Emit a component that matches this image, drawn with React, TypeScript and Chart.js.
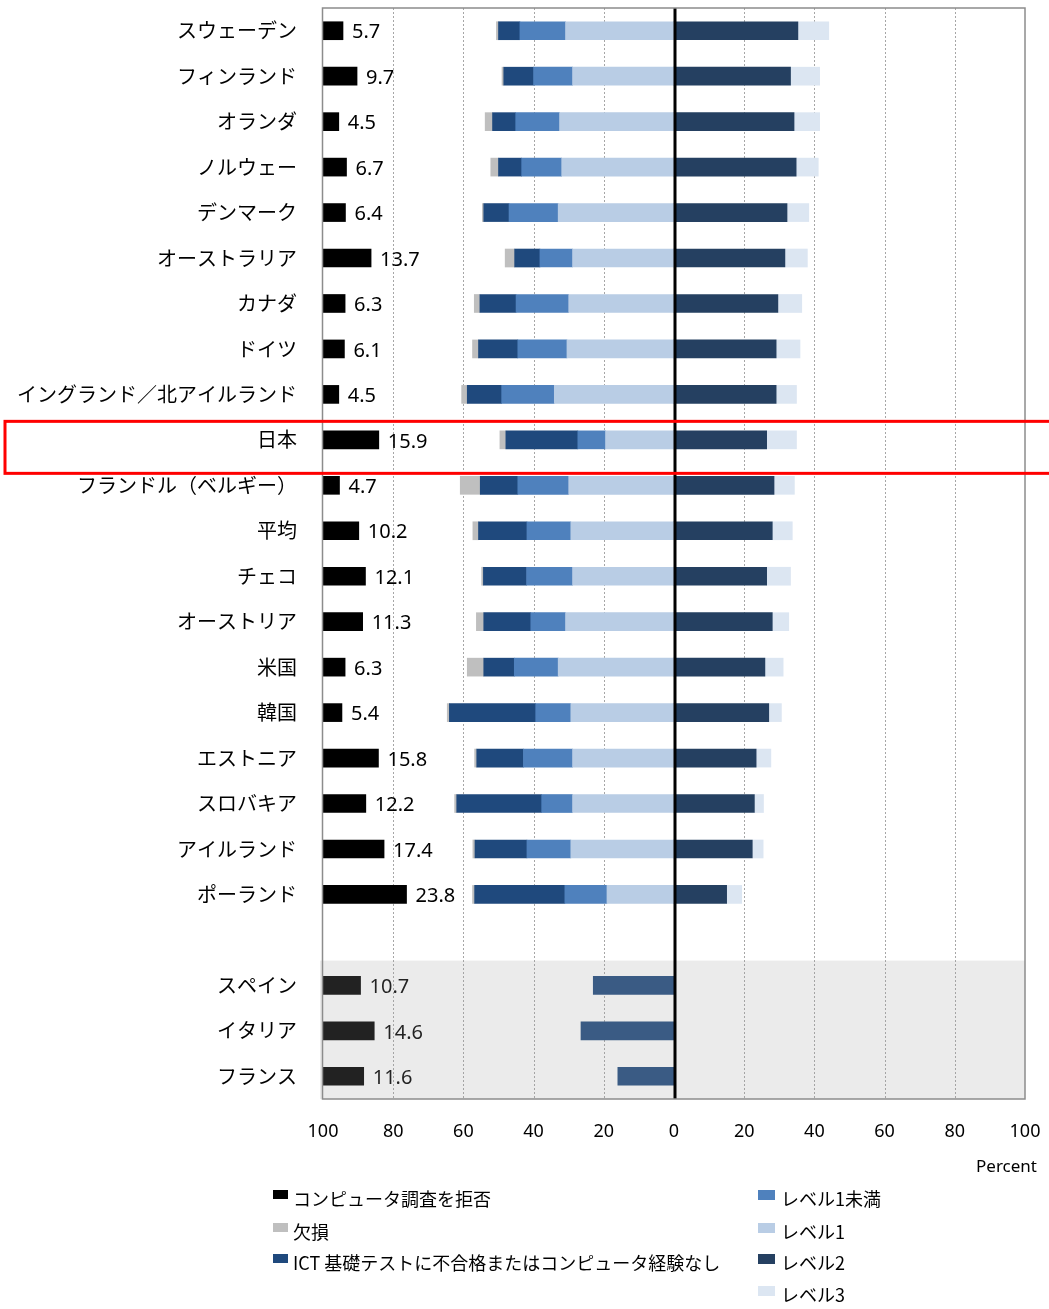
import React, { useEffect, useRef } from "react";
import { Chart, registerables } from "chart.js";

Chart.register(...registerables);

// Countries (top to bottom); the empty entry separates the three countries without problem-solving results
const countries = [
  "スウェーデン",
  "フィンランド",
  "オランダ",
  "ノルウェー",
  "デンマーク",
  "オーストラリア",
  "カナダ",
  "ドイツ",
  "イングランド／北アイルランド",
  "日本",
  "フランドル（ベルギー）",
  "平均",
  "チェコ",
  "オーストリア",
  "米国",
  "韓国",
  "エストニア",
  "スロバキア",
  "アイルランド",
  "ポーランド",
  "",
  "スペイン",
  "イタリア",
  "フランス",
];

// Percent of adults in each category
const refused = [5.7, 9.7, 4.5, 6.7, 6.4, 13.7, 6.3, 6.1, 4.5, 15.9, 4.7, 10.2, 12.1, 11.3, 6.3, 5.4, 15.8, 12.2, 17.4, 23.8, null, 10.7, 14.6, 11.6];
const missing = [0.6, 0.5, 2.1, 2.2, 0.4, 2.7, 1.6, 1.7, 1.6, 1.7, 5.7, 1.6, 0.5, 2.1, 4.7, 0.6, 0.6, 0.6, 0.6, 0.6, null, null, null, null];
const ictFail = [6.1, 8.5, 6.6, 6.6, 7.2, 7.2, 10.3, 11.2, 9.8, 20.5, 10.7, 13.8, 12.3, 13.4, 8.7, 24.6, 13.3, 24.2, 14.8, 25.7, null, 23.0, 26.5, 16.0];
const belowLevel1 = [13.0, 11.1, 12.5, 11.4, 14.0, 9.3, 15.0, 14.0, 15.0, 7.9, 14.5, 12.5, 13.1, 9.9, 12.5, 10.0, 14.0, 8.8, 12.5, 12.0, null, null, null, null];
const level1 = [30.9, 28.9, 32.6, 32.0, 33.0, 28.9, 30.0, 30.5, 34.1, 19.5, 30.0, 29.4, 28.9, 30.9, 33.0, 29.4, 28.9, 28.9, 29.4, 19.1, null, null, null, null];
const level2 = [35.3, 33.2, 34.2, 34.8, 32.2, 31.6, 29.6, 29.1, 29.1, 26.4, 28.5, 28.0, 26.4, 28.0, 25.9, 27.0, 23.4, 22.9, 22.3, 15.0, null, null, null, null];
const level3 = [8.8, 8.3, 7.3, 6.3, 6.2, 6.4, 6.8, 6.8, 5.8, 8.5, 5.8, 5.7, 6.8, 4.7, 5.2, 3.6, 4.2, 2.6, 3.1, 4.3, null, null, null, null];

const seriesNames = {
  refused: "コンピュータ調査を拒否",
  missing: "欠損",
  ictFail: "ICT 基礎テストに不合格またはコンピュータ経験なし",
  belowLevel1: "レベル1未満",
  level1: "レベル1",
  level2: "レベル2",
  level3: "レベル3",
};

const colors = {
  refused: "#000000",
  missing: "#BFBFBF",
  ictFail: "#1F497D",
  belowLevel1: "#4F81BD",
  level1: "#B9CDE5",
  level2: "#254061",
  level3: "#DCE6F2",
};

const highlighted = "日本";
const axisMin = -100;
const axisMax = 100;
const axisStep = 20;

type V = number | null;

// Segment stacked leftwards from zero, after the inner series
function leftSegments(series: V[], inner: V[][]) {
  return series.map((v, i) => {
    if (v == null) return null;
    const start = inner.reduce((s, arr) => s + (arr[i] ?? 0), 0);
    return [-(start + v), -start];
  });
}

// Segment stacked rightwards from zero, after the inner series
function rightSegments(series: V[], inner: V[][]) {
  return series.map((v, i) => {
    if (v == null) return null;
    const start = inner.reduce((s, arr) => s + (arr[i] ?? 0), 0);
    return [start, start + v];
  });
}

const LATIN = "'Noto Sans', 'DejaVu Sans', sans-serif";
const CJK = "'Noto Sans CJK JP', 'Noto Sans', sans-serif";

const decorations = {
  id: "decorations",
  beforeDatasetsDraw(chart: any) {
    const { ctx, chartArea: a, scales } = chart;
    const x = scales.x;
    ctx.save();
    ctx.strokeStyle = "#A6A6A6";
    ctx.lineWidth = 1;
    ctx.setLineDash([2, 2]);
    for (let v = axisMin + axisStep; v < axisMax; v += axisStep) {
      if (v === 0) continue;
      const px = Math.round(x.getPixelForValue(v)) + 0.5;
      ctx.beginPath();
      ctx.moveTo(px, a.top);
      ctx.lineTo(px, a.bottom);
      ctx.stroke();
    }
    ctx.restore();
  },
  afterDatasetsDraw(chart: any) {
    const { ctx, chartArea: a, scales } = chart;
    const x = scales.x;
    const y = scales.y;
    ctx.save();

    // refusal values next to the black bars
    ctx.fillStyle = "#000";
    ctx.font = `20px ${LATIN}`;
    ctx.textBaseline = "middle";
    ctx.textAlign = "left";
    refused.forEach((r, i) => {
      if (r == null) return;
      const px = x.getPixelForValue(axisMin + r) + 9;
      ctx.fillText(r.toFixed(1), px, y.getPixelForTick(i) + 2);
    });

    // shaded block for countries without problem-solving results
    const sepIndex = countries.indexOf("");
    const top = (y.getPixelForTick(sepIndex) + y.getPixelForTick(sepIndex + 1)) / 2 - 2;
    ctx.fillStyle = "rgba(160,160,160,0.21)";
    ctx.fillRect(a.left - 3, top, a.right - a.left + 3, a.bottom - top);

    // zero line
    const zx = x.getPixelForValue(0) + 1;
    ctx.strokeStyle = "#000";
    ctx.lineWidth = 3;
    ctx.beginPath();
    ctx.moveTo(zx, a.top);
    ctx.lineTo(zx, a.bottom);
    ctx.stroke();

    // plot frame
    ctx.strokeStyle = "#8C8C8C";
    ctx.lineWidth = 1.5;
    ctx.strokeRect(a.left - 0.5, a.top, a.right - a.left + 0.5, a.bottom - a.top);

    // highlight box
    const hy = y.getPixelForTick(countries.indexOf(highlighted));
    ctx.strokeStyle = "#FF0000";
    ctx.lineWidth = 3;
    ctx.strokeRect(5, hy - 18.5, 1100, 52);

    // unit label
    ctx.fillStyle = "#000";
    ctx.font = `17px ${LATIN}`;
    ctx.textAlign = "right";
    ctx.textBaseline = "middle";
    ctx.fillText("Percent", 1037, 1167);

    // legend
    const col1 = ["refused", "missing", "ictFail"];
    const col2 = ["belowLevel1", "level1", "level2", "level3"];
    const rowsY = [1199, 1232, 1263, 1295];
    ctx.font = `18px ${CJK}`;
    ctx.textAlign = "left";
    col1.forEach((k, i) => {
      ctx.fillStyle = (colors as any)[k];
      ctx.fillRect(273, rowsY[i] - 9, 15, 9);
      ctx.fillStyle = "#000";
      ctx.fillText((seriesNames as any)[k], 293, rowsY[i]);
    });
    col2.forEach((k, i) => {
      ctx.fillStyle = (colors as any)[k];
      ctx.fillRect(758, rowsY[i] - 9, 17, 10);
      ctx.fillStyle = "#000";
      ctx.fillText((seriesNames as any)[k], 781, rowsY[i]);
    });

    ctx.restore();
  },
};

export default function App() {
  const canvasRef = useRef<HTMLCanvasElement | null>(null);

  useEffect(() => {
    const canvas = canvasRef.current;
    if (!canvas) return;

    const bar = (key: keyof typeof colors, data: any[]) => ({
      label: seriesNames[key],
      data,
      backgroundColor: colors[key],
      borderWidth: 0,
      barThickness: 18,
      grouped: false,
    });

    const chart = new Chart(canvas, {
      type: "bar",
      data: {
        labels: countries,
        datasets: [
          bar("refused", refused.map((r) => (r == null ? null : [axisMin, axisMin + r]))),
          bar("level1", leftSegments(level1, [])),
          bar("belowLevel1", leftSegments(belowLevel1, [level1])),
          bar("ictFail", leftSegments(ictFail, [level1, belowLevel1])),
          bar("missing", leftSegments(missing, [level1, belowLevel1, ictFail])),
          bar("level2", rightSegments(level2, [])),
          bar("level3", rightSegments(level3, [level2])),
        ] as any,
      },
      options: {
        indexAxis: "y",
        responsive: false,
        animation: false,
        devicePixelRatio: 1,
        layout: { padding: { top: 8, right: 24, left: 0, bottom: 0 } },
        plugins: {
          legend: { display: false },
          tooltip: { enabled: false },
        },
        scales: {
          x: {
            type: "linear",
            min: axisMin,
            max: axisMax,
            grid: { display: false, drawTicks: false },
            border: { display: false },
            ticks: {
              stepSize: axisStep,
              padding: 22,
              color: "#000",
              font: { family: LATIN, size: 18 },
              callback: (v: any) => String(Math.abs(Number(v))),
            },
            afterFit: (s: any) => {
              s.height = 210;
              s.paddingLeft = 0;
              s.paddingRight = 0;
              s.paddingTop = 0;
              s.paddingBottom = 0;
            },
          },
          y: {
            type: "category",
            grid: { display: false, drawTicks: false },
            border: { display: false },
            ticks: {
              autoSkip: false,
              padding: 26,
              color: "#000",
              font: { family: CJK, size: 20 },
            },
            afterFit: (s: any) => {
              s.width = 323;
              s.paddingLeft = 0;
              s.paddingRight = 0;
              s.paddingTop = 0;
              s.paddingBottom = 0;
            },
          },
        },
      } as any,
      plugins: [decorations],
    });

    return () => chart.destroy();
  }, []);

  return (
    <div style={{ position: "absolute", left: 0, top: 0, width: 1049, height: 1309, background: "#fff" }}>
      <canvas ref={canvasRef} width={1049} height={1309} style={{ width: 1049, height: 1309, display: "block" }} />
    </div>
  );
}
